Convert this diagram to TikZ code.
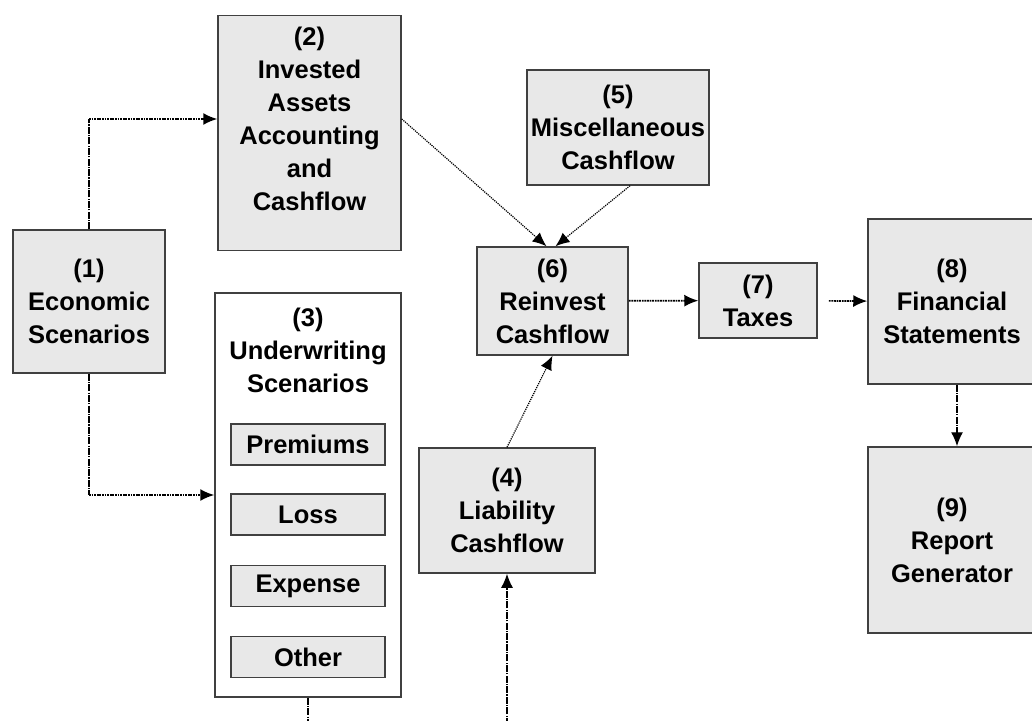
\documentclass[tikz,border=0pt]{standalone}
\usepackage{fontspec}
\setmainfont{Liberation Sans}
\usetikzlibrary{arrows.meta}
\definecolor{boxfill}{HTML}{E8E8E8}
\definecolor{boxline}{HTML}{404040}
\tikzset{
    box/.style={draw=boxline, line width=1.5pt, fill=boxfill, align=center, inner sep=0pt},
    hlink/.style={line width=1.7pt, dash pattern=on 1.8pt off 0.8pt, -{Latex[length=14pt,width=12pt]}},
    vlink/.style={line width=1.4pt, dash pattern=on 7pt off 1.2pt on 1.2pt off 1.2pt, -{Latex[length=14pt,width=12pt]}},
    dlink/.style={line width=1.2pt, dash pattern=on 1.2pt off 1pt, -{Latex[length=14pt,width=12pt]}},
}
\begin{document}
\begin{tikzpicture}[x=1pt, y=-1pt, font=\fontsize{25.5}{33}\selectfont\bfseries]
    \useasboundingbox (0,0) rectangle (1032,720);
    \node[box, minimum width=152pt, minimum height=143pt] (eco) at (89,301.5) {(1)\\Economic\\Scenarios};
    \node[box, minimum width=183pt, minimum height=235pt] (inv) at (309.5,133) {};
    \node[align=center] (invtext) at (309.5,119) {(2)\\Invested\\Assets\\Accounting\\and\\Cashflow};
    \node[box, fill=white, minimum width=186pt, minimum height=404pt] (uw) at (308,495) {};
    \node[align=center] (uwtitle) at (308,350) {(3)\\Underwriting\\Scenarios};
    \node[box, minimum width=154pt, minimum height=41pt] (prem) at (308,444.5) {Premiums};
    \node[box, minimum width=154pt, minimum height=41pt] (loss) at (308,514.5) {Loss};
    \node[box, minimum width=154pt, minimum height=41pt] (expense) at (308,586) {Expense};
    \node[box, minimum width=154pt, minimum height=41pt] (other) at (308,657) {Other};
    \node[box, minimum width=176pt, minimum height=125pt] (liab) at (507,510.5) {(4)\\Liability\\Cashflow};
    \node[box, minimum width=182pt, minimum height=115pt] (misc) at (618,127.5) {(5)\\Miscellaneous\\Cashflow};
    \node[box, minimum width=151pt, minimum height=108pt] (reinv) at (552.5,301) {(6)\\Reinvest\\Cashflow};
    \node[box, minimum width=118pt, minimum height=75pt] (taxes) at (758,300.5) {(7)\\Taxes};
    \node[box, minimum width=168pt, minimum height=165pt] (fin) at (952,301.5) {(8)\\Financial\\Statements};
    \node[box, minimum width=168pt, minimum height=186pt] (report) at (952,540) {(9)\\Report\\Generator};
    \coordinate (bend12) at (89,119);
    \coordinate (bend13) at (89,495);
    \coordinate (uwout) at (308,725);
    \coordinate (liabin) at (507,725);
    \draw[vlink, -] (eco) -- (bend12);
    \draw[hlink] (bend12) -- (inv.west |- bend12);
    \draw[vlink, -] (eco) -- (bend13);
    \draw[hlink] (bend13) -- (uw.west |- bend13);
    \draw[dlink] ([yshift=14pt]inv.east) -- ([xshift=-6pt]reinv.north);
    \draw[dlink] ([xshift=12pt]misc.south) -- ([xshift=3pt]reinv.north);
    \draw[dlink] (liab.north) -- (reinv.south);
    \draw[hlink] (reinv) -- (taxes);
    \draw[hlink, shorten <=11pt] (taxes) -- (fin);
    \draw[vlink] ([xshift=5pt]fin.south) -- ([xshift=5pt]report.north);
    \draw[vlink, -] (uw) -- (uwout);
    \draw[vlink] (liabin) -- (liab);
\end{tikzpicture}
\end{document}
